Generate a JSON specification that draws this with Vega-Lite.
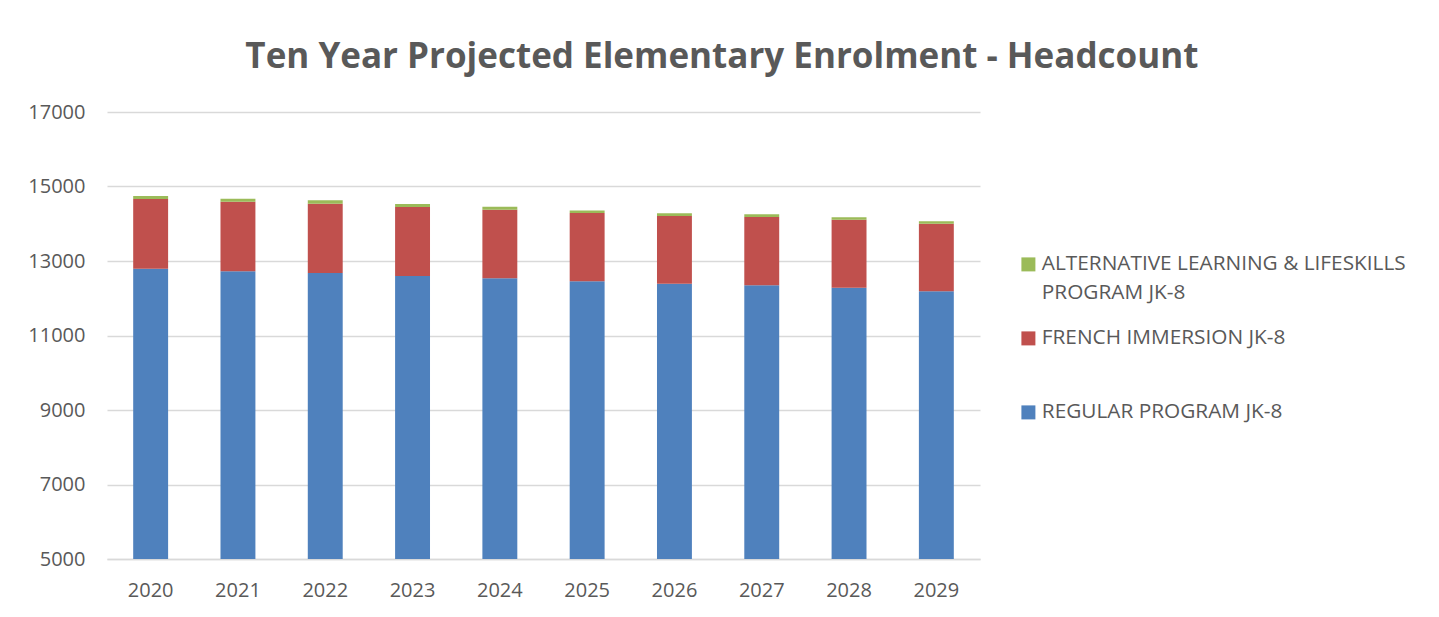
{
  "$schema": "https://vega.github.io/schema/vega-lite/v6.json",
  "width": 873,
  "height": 447,
  "padding": {"left": 27, "top": 40, "right": 5, "bottom": 5},
  "background": "white",
  "title": {
    "text": "Ten Year Projected Elementary Enrolment - Headcount",
    "font": "Open Sans",
    "fontSize": 35,
    "fontWeight": "bold",
    "color": "#595959",
    "anchor": "middle",
    "frame": "bounds",
    "offset": 27,
    "dx": 5
  },
  "data": {
    "values": [
      {"year": "2020", "program": "REGULAR PROGRAM JK-8", "order": 1, "count": 12790},
      {"year": "2020", "program": "FRENCH IMMERSION JK-8", "order": 2, "count": 1875},
      {"year": "2020", "program": "ALTERNATIVE LEARNING & LIFESKILLS PROGRAM JK-8", "order": 3, "count": 80},
      {"year": "2021", "program": "REGULAR PROGRAM JK-8", "order": 1, "count": 12723},
      {"year": "2021", "program": "FRENCH IMMERSION JK-8", "order": 2, "count": 1870},
      {"year": "2021", "program": "ALTERNATIVE LEARNING & LIFESKILLS PROGRAM JK-8", "order": 3, "count": 80},
      {"year": "2022", "program": "REGULAR PROGRAM JK-8", "order": 1, "count": 12678},
      {"year": "2022", "program": "FRENCH IMMERSION JK-8", "order": 2, "count": 1860},
      {"year": "2022", "program": "ALTERNATIVE LEARNING & LIFESKILLS PROGRAM JK-8", "order": 3, "count": 90},
      {"year": "2023", "program": "REGULAR PROGRAM JK-8", "order": 1, "count": 12597},
      {"year": "2023", "program": "FRENCH IMMERSION JK-8", "order": 2, "count": 1853},
      {"year": "2023", "program": "ALTERNATIVE LEARNING & LIFESKILLS PROGRAM JK-8", "order": 3, "count": 80},
      {"year": "2024", "program": "REGULAR PROGRAM JK-8", "order": 1, "count": 12535},
      {"year": "2024", "program": "FRENCH IMMERSION JK-8", "order": 2, "count": 1843},
      {"year": "2024", "program": "ALTERNATIVE LEARNING & LIFESKILLS PROGRAM JK-8", "order": 3, "count": 80},
      {"year": "2025", "program": "REGULAR PROGRAM JK-8", "order": 1, "count": 12454},
      {"year": "2025", "program": "FRENCH IMMERSION JK-8", "order": 2, "count": 1835},
      {"year": "2025", "program": "ALTERNATIVE LEARNING & LIFESKILLS PROGRAM JK-8", "order": 3, "count": 70},
      {"year": "2026", "program": "REGULAR PROGRAM JK-8", "order": 1, "count": 12391},
      {"year": "2026", "program": "FRENCH IMMERSION JK-8", "order": 2, "count": 1817},
      {"year": "2026", "program": "ALTERNATIVE LEARNING & LIFESKILLS PROGRAM JK-8", "order": 3, "count": 72},
      {"year": "2027", "program": "REGULAR PROGRAM JK-8", "order": 1, "count": 12347},
      {"year": "2027", "program": "FRENCH IMMERSION JK-8", "order": 2, "count": 1834},
      {"year": "2027", "program": "ALTERNATIVE LEARNING & LIFESKILLS PROGRAM JK-8", "order": 3, "count": 72},
      {"year": "2028", "program": "REGULAR PROGRAM JK-8", "order": 1, "count": 12284},
      {"year": "2028", "program": "FRENCH IMMERSION JK-8", "order": 2, "count": 1826},
      {"year": "2028", "program": "ALTERNATIVE LEARNING & LIFESKILLS PROGRAM JK-8", "order": 3, "count": 62},
      {"year": "2029", "program": "REGULAR PROGRAM JK-8", "order": 1, "count": 12186},
      {"year": "2029", "program": "FRENCH IMMERSION JK-8", "order": 2, "count": 1816},
      {"year": "2029", "program": "ALTERNATIVE LEARNING & LIFESKILLS PROGRAM JK-8", "order": 3, "count": 63}
    ]
  },
  "mark": {"type": "bar", "clip": true},
  "encoding": {
    "x": {
      "field": "year",
      "type": "ordinal",
      "scale": {"paddingInner": 0.6, "paddingOuter": 0.3},
      "axis": {
        "title": null,
        "labelAngle": 0,
        "labelFont": "Open Sans",
        "labelFontSize": 20,
        "labelColor": "#595959",
        "labelPadding": 21,
        "ticks": false,
        "domainColor": "#D9D9D9",
        "domainWidth": 1.5,
        "grid": false
      }
    },
    "y": {
      "field": "count",
      "type": "quantitative",
      "stack": "zero",
      "scale": {"domain": [5000, 17000], "zero": false, "nice": false},
      "axis": {
        "title": null,
        "values": [5000, 7000, 9000, 11000, 13000, 15000, 17000],
        "format": "d",
        "labelFont": "Open Sans",
        "labelFontSize": 20,
        "labelColor": "#595959",
        "labelPadding": 22,
        "ticks": false,
        "domain": false,
        "grid": true,
        "gridColor": "#D9D9D9",
        "gridWidth": 1.5
      }
    },
    "color": {
      "field": "program",
      "type": "nominal",
      "scale": {
        "domain": ["ALTERNATIVE LEARNING & LIFESKILLS PROGRAM JK-8", "FRENCH IMMERSION JK-8", "REGULAR PROGRAM JK-8"],
        "range": ["#9BBB59", "#C0504D", "#4F81BD"]
      },
      "legend": {
        "title": null,
        "orient": "none",
        "legendX": 911,
        "legendY": 142,
        "padding": 0,
        "symbolType": "square",
        "symbolSize": 196,
        "symbolStrokeWidth": 0,
        "symbolOpacity": 1,
        "labelFont": "Open Sans",
        "labelFontSize": 20.8,
        "labelColor": "#595959",
        "labelOffset": 3,
        "labelLimit": 500,
        "rowPadding": 23,
        "labelExpr": "datum.label == 'ALTERNATIVE LEARNING & LIFESKILLS PROGRAM JK-8' ? ['ALTERNATIVE LEARNING & LIFESKILLS', 'PROGRAM JK-8'] : datum.label == 'FRENCH IMMERSION JK-8' ? ['FRENCH IMMERSION JK-8', ' '] : datum.label"
      }
    },
    "order": {"field": "order", "type": "quantitative"}
  },
  "config": {
    "view": {"stroke": null},
    "style": {"guide-label": {"lineHeight": 29}}
  }
}
